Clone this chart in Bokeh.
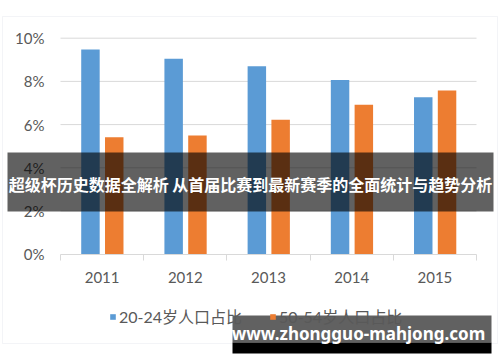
from bokeh.plotting import figure
from bokeh.models import (ColumnDataSource, FixedTicker, NumeralTickFormatter, Range1d,
                          Legend, LegendItem, BoxAnnotation, Label)
from bokeh.transform import dodge
from bokeh.embed import file_html
from bokeh.resources import INLINE

years = ["2011", "2012", "2013", "2014", "2015"]
share_20_24 = [0.0948, 0.0905, 0.0870, 0.0807, 0.0727]
share_50_54 = [0.0542, 0.0550, 0.0622, 0.0692, 0.0758]
series_names = ["20-24岁人口占比", "50-54岁人口占比"]
y_ticks = [0.0, 0.02, 0.04, 0.06, 0.08, 0.10]
title_text = "超级杯历史数据全解析 从首届比赛到最新赛季的全面统计与趋势分析"
watermark_text = "www.zhongguo-mahjong.com"

BLUE = "#5B9BD5"
ORANGE = "#ED7D31"
GRAY_TXT = "#595959"
GRID = "#D9D9D9"

# canvas layout (pixels)
W, H = 500, 362
PLOT_L, PLOT_R = 60.0, 476.0      # pixel extent of the category area
PLOT_T, PLOT_B = 37.7, 253.7      # pixel of y=10% and y=0%

n = len(years)
x_lo, x_hi = 0.5, n + 0.5
y_lo, y_hi = y_ticks[0], y_ticks[-1]
px_per_x = (PLOT_R - PLOT_L) / (x_hi - x_lo)
px_per_y = (PLOT_B - PLOT_T) / (y_hi - y_lo)
x_range = Range1d(x_lo - PLOT_L / px_per_x, x_hi + (W - PLOT_R) / px_per_x)
y_range = Range1d(y_lo - (H - PLOT_B) / px_per_y, y_hi + PLOT_T / px_per_y)

pos = [i + 1 for i in range(n)]
src = ColumnDataSource(dict(x=pos, a=share_20_24, b=share_50_54))

p = figure(width=W, height=H, output_backend="svg", toolbar_location=None,
           x_range=x_range, y_range=y_range,
           min_border=0, min_border_left=0, min_border_right=0,
           min_border_top=0, min_border_bottom=0)
p.outline_line_color = None
p.background_fill_color = "white"
p.border_fill_color = "white"
p.grid.visible = False

# horizontal gridlines across the category area
gsrc = ColumnDataSource(dict(y=y_ticks[1:], x0=[x_lo] * (len(y_ticks) - 1),
                             x1=[x_hi] * (len(y_ticks) - 1)))
p.segment(x0="x0", x1="x1", y0="y", y1="y", source=gsrc, line_color=GRID, line_width=1)

r1 = p.vbar(x=dodge("x", -0.140, range=p.x_range), top="a", width=0.222, source=src,
            fill_color=BLUE, line_color=None)
r2 = p.vbar(x=dodge("x", 0.146, range=p.x_range), top="b", width=0.222, source=src,
            fill_color=ORANGE, line_color=None)

# y axis
p.yaxis.fixed_location = x_lo
p.yaxis.bounds = (y_lo, y_hi)
p.yaxis.ticker = FixedTicker(ticks=y_ticks)
p.yaxis.formatter = NumeralTickFormatter(format="0%")
p.yaxis.axis_line_color = None
p.yaxis.major_tick_line_color = None
p.yaxis.minor_tick_line_color = None
p.yaxis.major_tick_out = 0
p.yaxis.major_tick_in = 0
p.yaxis.major_label_standoff = 16
p.yaxis.major_label_text_font = "Lato"
p.yaxis.major_label_text_font_size = "15px"
p.yaxis.major_label_text_color = GRAY_TXT

# x axis
p.xaxis.fixed_location = y_lo
p.xaxis.bounds = (x_lo, x_hi)
p.xaxis.ticker = FixedTicker(ticks=pos, minor_ticks=[i + 0.5 for i in range(n + 1)])
p.xaxis.major_label_overrides = {pp: y for pp, y in zip(pos, years)}
p.xaxis.axis_line_color = GRID
p.xaxis.major_tick_line_color = None
p.xaxis.major_tick_out = 0
p.xaxis.major_tick_in = 0
p.xaxis.minor_tick_line_color = GRID
p.xaxis.minor_tick_out = 6
p.xaxis.minor_tick_in = 0
p.xaxis.major_label_standoff = 12
p.xaxis.major_label_text_font = "Lato"
p.xaxis.major_label_text_font_size = "15px"
p.xaxis.major_label_text_color = GRAY_TXT

legend = Legend(items=[LegendItem(label=series_names[0], renderers=[r1]),
                       LegendItem(label=series_names[1], renderers=[r2])],
                orientation="horizontal", location=(109, 34),
                padding=0, margin=0, spacing=27, label_standoff=3,
                glyph_width=7, glyph_height=7, label_height=20,
                label_text_font="Lato, 'Noto Sans CJK SC'", label_text_font_size="16px",
                label_text_color=GRAY_TXT, background_fill_alpha=0, border_line_color=None)
p.add_layout(legend, "center")

# chart border
p.add_layout(BoxAnnotation(left=2, right=497, top=16, bottom=343,
                           left_units="canvas", right_units="canvas",
                           top_units="canvas", bottom_units="canvas",
                           fill_alpha=0, line_color="#D6DCE4", line_width=1))

# banner overlay
p.add_layout(BoxAnnotation(left=7, right=493, top=152, bottom=211,
                           left_units="canvas", right_units="canvas",
                           top_units="canvas", bottom_units="canvas",
                           fill_color="black", fill_alpha=0.62, line_color=None))
p.add_layout(Label(x=250, y=183, x_units="canvas", y_units="canvas", text=title_text,
                   text_align="center", text_baseline="middle", text_color="white",
                   text_font="'Noto Sans CJK SC'", text_font_style="bold",
                   text_font_size="16px"))

# watermark
p.add_layout(BoxAnnotation(left=232, right=491, top=315, bottom=342,
                           left_units="canvas", right_units="canvas",
                           top_units="canvas", bottom_units="canvas",
                           fill_color="black", fill_alpha=0.62, line_color=None))
p.add_layout(BoxAnnotation(left=232, right=491, top=342, bottom=353,
                           left_units="canvas", right_units="canvas",
                           top_units="canvas", bottom_units="canvas",
                           fill_color="black", fill_alpha=1.0, line_color=None))
p.add_layout(Label(x=358, y=333, x_units="canvas", y_units="canvas", text=watermark_text,
                   text_align="center", text_baseline="middle", text_color="white",
                   text_font="'Noto Sans'", text_font_style="bold",
                   text_font_size="17px"))

open("out.html", "w").write(file_html(p, INLINE))
